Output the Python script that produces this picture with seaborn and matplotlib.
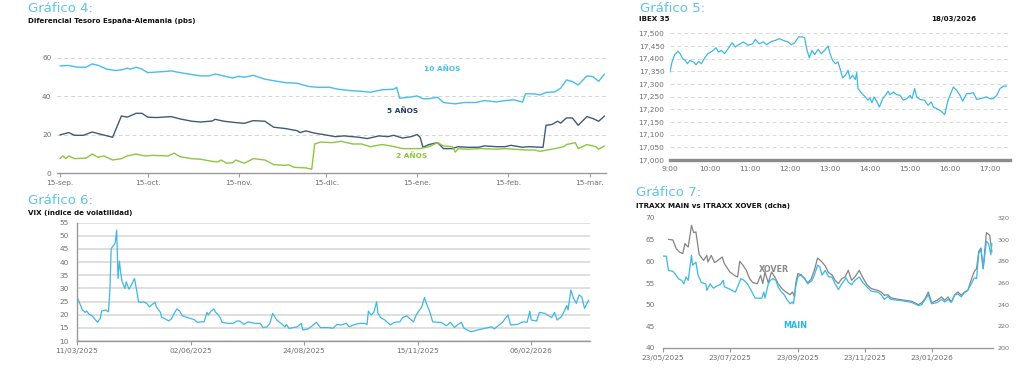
import pandas as pd
import matplotlib
matplotlib.use("Agg")
import matplotlib.pyplot as plt
import seaborn as sns

# ====================== DATA ======================
# Gráfico 4: Diferencial Tesoro España-Alemania (pbs); days since 15-sep-2025
g4_start = "2025-09-15"
g4_days_10 = [0,3,6,9,11,13,16,19,21,23,24,26,28,30,32,36,38,41,45,48,51,53,55,59,61,63,66,70,73,77,
              81,85,88,92,95,99,103,106,110,114,115,116,119,122,124,126,129,131,135,138,142,145,149,152,155,158,159,162,164,166,
              169,171,173,175,177,180,182,184,186]
g4_vals_10 = [55.7,55.9,55.0,55.0,56.7,56.0,54.0,53.3,53.6,54.5,54.0,55.0,54.0,52.2,52.4,52.8,53.1,52.2,51.2,50.5,
              50.5,51.5,50.8,49.4,50.3,49.8,50.8,48.8,48.0,47.0,46.7,45.0,44.6,44.6,43.6,42.9,42.5,42.0,43.3,43.6,
              44.6,38.9,39.4,40.1,38.6,38.7,39.4,36.7,36.0,36.7,36.7,37.7,37.0,37.7,38.1,36.9,41.2,41.2,40.6,41.9,
              42.2,44.1,48.4,47.6,45.8,50.5,50.1,47.7,51.5]
g4_days_5 = [0,3,5,8,11,14,18,21,23,26,28,30,33,38,41,45,48,52,53,56,60,63,66,70,73,77,81,82,84,87,
             90,94,97,102,105,109,112,114,117,120,122,123,124,126,129,131,134,136,139,143,145,149,152,154,158,160,164,165,166,168,
             170,171,173,175,177,180,182,184,186]
g4_vals_5 = [19.9,21.1,19.7,19.7,21.4,20.2,18.7,29.7,29.1,31.1,31.1,29.1,28.9,29.4,28.2,27.0,26.6,27.1,28.0,27.0,
             26.3,25.9,27.3,27.0,23.9,23.2,22.1,21.1,22.0,20.8,20.1,19.0,19.4,18.7,18.0,19.4,19.0,19.7,18.3,19.0,
             20.1,18.7,13.5,14.9,15.9,12.8,12.8,13.8,13.5,13.5,14.2,13.8,13.8,14.5,13.5,13.8,13.5,13.5,24.9,25.3,
             27.0,26.0,28.7,28.7,24.9,29.4,28.4,27.0,29.7]
g4_days_2 = [0,1,2,3,5,9,11,13,15,18,21,23,26,29,32,37,39,41,45,48,52,54,55,57,59,60,63,66,70,73,
             77,78,80,84,86,87,89,93,96,100,103,106,110,113,117,120,123,126,129,131,134,135,136,139,144,149,152,155,159,162,
             164,168,170,172,173,176,177,180,183,184,186]
g4_vals_2 = [7.6,9.0,7.6,9.0,7.6,7.9,10.0,8.3,9.0,6.9,7.6,9.0,10.0,9.0,9.3,9.0,10.4,8.6,7.6,7.3,
             6.2,5.9,6.9,5.2,5.5,6.9,5.2,7.6,6.9,4.5,4.1,4.5,3.1,2.8,2.1,15.2,16.2,15.9,16.6,15.2,
             15.2,13.8,14.9,14.2,12.8,12.8,12.8,13.8,15.9,14.2,13.8,11.0,12.8,12.5,12.8,12.5,12.8,12.5,12.1,12.1,
             11.4,12.5,13.1,13.8,14.9,15.9,12.8,14.9,13.8,12.5,14.2]
g4_tick_dates = ["2025-09-15", "2025-10-15", "2025-11-15", "2025-12-15", "2026-01-15", "2026-02-15", "2026-03-15"]
g4_tick_labels = ["15-sep.", "15-oct.", "15-nov.", "15-dic.", "15-ene.", "15-feb.", "15-mar."]
g4_yticks = [0, 20, 40, 60]

# Gráfico 5: IBEX 35 intradía 18/03/2026; minutes since 9:00
g5_minutes = [0,3,7,12,15,19,23,26,30,35,39,43,47,52,57,63,69,73,77,82,87,93,98,103,110,117,124,128,134,140,
              145,152,158,164,170,177,182,187,193,199,202,205,209,213,217,222,227,232,237,240,244,248,252,255,259,263,267,270,274,278,
              280,282,288,293,297,300,303,306,310,314,319,323,327,330,335,340,345,350,355,360,363,367,370,375,382,387,392,395,400,407,
              412,417,420,425,430,435,439,445,450,455,460,465,470,475,480,485,490,495,500,505]
g5_vals = [17347,17387,17416,17429,17420,17400,17393,17380,17393,17387,17376,17389,17380,17403,17420,17429,17443,17426,17433,17420,
           17439,17463,17446,17455,17466,17453,17459,17476,17459,17466,17455,17468,17472,17479,17472,17466,17455,17463,17486,17486,
           17482,17439,17403,17433,17416,17437,17420,17433,17450,17420,17393,17380,17387,17361,17324,17334,17354,17321,17334,17318,
           17345,17282,17262,17249,17236,17245,17226,17249,17232,17209,17242,17255,17271,17258,17268,17258,17255,17236,17242,17255,
           17242,17282,17249,17239,17236,17216,17229,17209,17203,17192,17179,17236,17255,17288,17275,17255,17232,17262,17262,17266,
           17239,17242,17245,17249,17242,17242,17255,17282,17291,17292]
g5_xticks = [9, 10, 11, 12, 13, 14, 15, 16, 17]
g5_xtick_labels = ["9:00", "10:00", "11:00", "12:00", "13:00", "14:00", "15:00", "16:00", "17:00"]
g5_yticks = [17000, 17050, 17100, 17150, 17200, 17250, 17300, 17350, 17400, 17450, 17500]

# Gráfico 6: VIX; days since 11/03/2025
g6_start = "2025-03-11"
g6_days = [0,2,4,6,7,9,11,15,17,18,21,23,24,25,27,28,29,30,31,32,33,35,36,38,40,42,44,45,47,49,
           51,53,55,57,58,61,62,64,67,69,71,73,75,77,79,81,84,86,88,91,93,95,96,98,100,101,103,105,106,111,
           114,117,119,122,125,130,134,136,139,141,143,146,149,152,153,155,158,161,164,165,169,172,175,178,184,187,190,193,197,199,
           203,207,210,212,213,215,217,219,220,222,225,229,232,236,238,241,243,246,248,252,254,256,258,260,264,266,270,273,276,278,
           281,283,288,293,298,303,305,309,311,315,317,322,326,329,331,332,336,338,342,344,347,349,351,354,356,358,359,361,363,365,
           367,369,371,374]
g6_vals = [26.8,24.3,21.8,20.9,21.4,20.1,19.6,17.1,18.6,21.4,21.8,21.1,28.7,45.2,46.5,47.5,52.2,33.8,40.4,35.7,
           32.5,30.0,32.5,29.7,31.5,33.8,28.1,24.9,24.7,24.9,24.3,23.0,23.9,24.7,23.0,20.9,18.9,18.6,17.6,18.4,
           20.5,22.2,21.4,19.6,19.2,18.9,18.4,18.0,17.1,17.3,17.3,20.9,19.9,21.4,22.2,21.1,20.1,18.6,17.1,16.7,
           16.7,17.6,17.6,16.3,17.3,16.7,16.7,15.1,15.4,16.7,20.5,18.0,16.7,15.4,16.3,14.8,15.1,15.4,16.7,14.2,
           14.6,15.8,17.1,15.1,15.1,14.8,16.3,16.1,16.7,15.4,16.3,16.7,16.7,16.3,21.4,19.9,20.9,24.9,20.5,18.9,
           18.0,16.1,17.1,17.3,18.9,19.6,18.6,17.3,19.9,23.0,26.5,23.5,20.9,17.3,17.1,17.1,15.8,17.1,15.1,16.1,
           17.1,14.8,13.5,14.2,14.8,15.4,14.6,16.3,17.1,19.9,16.1,16.3,17.3,17.1,21.4,18.0,17.6,20.9,20.5,19.9,
           18.9,20.9,18.0,19.2,21.1,23.5,21.8,29.4,26.2,24.3,27.5,26.8,22.4,25.6]
g6_tick_dates = ["2025-03-11", "2025-06-02", "2025-08-24", "2025-11-15", "2026-02-06"]
g6_tick_labels = ["11/03/2025", "02/06/2025", "24/08/2025", "15/11/2025", "06/02/2026"]
g6_yticks = [10, 15, 20, 25, 30, 35, 40, 45, 50, 55]

# Gráfico 7: iTraxx Main (izq) vs iTraxx Crossover (dcha); days since 23/05/2025
g7_start = "2025-05-23"
g7_days_main = [0,3,5,9,12,14,17,19,21,23,26,27,30,32,35,39,40,43,46,49,52,55,56,60,63,66,68,71,74,77,
                80,84,87,90,92,93,96,98,100,103,105,108,110,113,116,118,119,121,123,125,129,132,136,138,141,143,145,148,151,154,
                157,160,163,167,169,172,175,179,182,186,190,196,199,202,205,208,215,221,227,233,236,239,242,245,250,254,257,260,263,266,
                269,272,275,278,282,284,286,288,290,292,295,297,299,300]
g7_vals_main = [61.2,61.2,57.9,57.7,56.8,56.0,55.6,54.8,56.4,55.6,61.4,59.1,59.8,56.8,55.1,54.8,53.3,54.8,53.8,54.3,
                54.6,55.6,54.1,53.7,53.3,52.9,54.1,56.0,55.6,54.8,53.5,51.5,51.5,51.5,52.9,51.5,54.8,55.6,56.0,55.6,
                54.1,52.9,52.5,51.2,50.2,50.6,50.2,54.1,56.4,56.8,56.2,54.8,55.6,56.8,59.1,58.7,56.8,57.9,56.4,56.4,
                54.8,53.5,54.8,56.2,55.2,54.6,55.6,56.4,55.2,54.1,53.1,52.9,52.3,51.2,51.9,51.2,51.0,50.8,50.5,49.8,
                50.0,51.2,52.3,50.2,50.5,51.2,50.6,51.2,50.5,52.2,52.5,51.8,52.8,53.3,55.2,56.2,56.0,61.8,62.8,58.3,
                64.6,64.1,61.5,64.1]
g7_days_xover = [5,9,12,15,18,20,23,26,28,30,33,37,40,41,44,47,50,54,56,61,65,68,70,73,76,79,82,86,89,91,
                 93,96,99,102,105,109,113,116,118,120,121,123,126,129,132,135,138,141,145,148,151,154,157,160,163,166,169,172,175,179,
                 182,186,190,196,199,202,205,208,215,221,227,233,236,239,242,245,250,254,257,260,263,266,269,272,275,278,282,284,286,288,
                 290,292,295,298,300]
g7_vals_xover = [300.3,299.7,291.7,288.6,287.1,296.3,293.2,313.2,306.5,307.1,286.2,280.9,285.5,279.4,285.5,278.8,280.9,284.0,277.8,270.2,
                 267.1,265.5,280.0,276.3,271.7,264.0,260.3,259.4,267.1,259.4,270.2,260.3,270.2,265.5,259.4,254.2,251.1,249.2,251.7,247.1,
                 259.4,268.6,267.7,264.0,260.3,263.4,271.7,283.1,279.4,275.7,269.5,267.7,262.5,259.4,264.0,265.5,271.7,262.5,265.5,271.7,
                 265.5,258.5,254.8,253.2,251.7,248.6,249.2,246.2,244.9,244.0,243.1,240.0,241.8,245.5,251.7,241.8,244.0,247.1,244.0,247.1,
                 242.5,249.2,251.7,248.6,251.7,253.2,265.5,270.8,273.2,289.2,292.3,273.2,306.5,304.0,288.6]
g7_tick_dates = ["2025-05-23", "2025-07-23", "2025-09-23", "2025-11-23", "2026-01-23"]
g7_tick_labels = ["23/05/2025", "23/07/2025", "23/09/2025", "23/11/2025", "23/01/2026"]
g7_yticks_left = [40, 45, 50, 55, 60, 65, 70]
g7_yticks_right = [200, 220, 240, 260, 280, 300, 320]

# ====================== STYLE ======================
sns.set_theme(style="white")
plt.rcParams["font.family"] = ["DejaVu Sans"]

W, H = 1024, 372
CYAN = "#3db8e6"
TITLE_CYAN = "#5cc3ea"
GREY_TXT = "#6f6f6f"
AXIS_GREY = "#9a9a9a"
TICK_FS = 5.3
SUB_FS = 5.1

fig = plt.figure(figsize=(W / 100, H / 100), dpi=100)
fig.patch.set_facecolor("white")


def px_axes(left, top, right, bottom):
    return fig.add_axes([left / W, 1 - bottom / H, (right - left) / W, (bottom - top) / H])


def ftext(x, y, s, **kw):
    fig.text(x / W, 1 - y / H, s, va="center", **kw)


def to_dates(start, days):
    return pd.Timestamp(start) + pd.to_timedelta(days, unit="D")


def line(ax, x, y, color, lw=1.0):
    df = pd.DataFrame({"x": x, "y": y})
    sns.lineplot(data=df, x="x", y="y", ax=ax, color=color, linewidth=lw,
                 errorbar=None, legend=False)
    ax.set_xlabel("")
    ax.set_ylabel("")


def clean(ax):
    for s in ax.spines.values():
        s.set_visible(False)
    ax.set_facecolor("none")
    ax.tick_params(colors=GREY_TXT, labelsize=TICK_FS)


# ---------------- Gráfico 4 ----------------
ax4 = px_axes(57, 46, 606, 173.3)
line(ax4, to_dates(g4_start, g4_days_10), g4_vals_10, "#45bfe9", 1.0)
line(ax4, to_dates(g4_start, g4_days_5), g4_vals_5, "#3e5c75", 1.0)
line(ax4, to_dates(g4_start, g4_days_2), g4_vals_2, "#8dc63f", 1.0)
clean(ax4)
ax4.set_ylim(0, 66)
ax4.set_xlim(pd.Timestamp(g4_start) - pd.Timedelta(days=1), pd.Timestamp(g4_start) + pd.Timedelta(days=186.5))
ax4.set_yticks(g4_yticks)
ax4.set_xticks(pd.to_datetime(g4_tick_dates))
ax4.set_xticklabels(g4_tick_labels)
ax4.yaxis.grid(True, linestyle=(0, (4, 3)), color="#d4d4d4", linewidth=0.7)
ax4.xaxis.grid(False)
ax4.spines["bottom"].set_visible(True)
ax4.spines["bottom"].set_color(AXIS_GREY)
ax4.spines["bottom"].set_linewidth(1.0)
ax4.tick_params(axis="y", length=0, pad=4)
ax4.tick_params(axis="x", length=3, width=0.8, color=AXIS_GREY, direction="out", pad=2, bottom=True)
ax4.text(pd.Timestamp(g4_start) + pd.Timedelta(days=130.5), 54.1, "10 AÑOS", color="#45bfe9",
         fontsize=5.3, fontweight="bold", ha="center", va="center")
ax4.text(pd.Timestamp(g4_start) + pd.Timedelta(days=117), 32.8, "5 AÑOS", color="#1f3868",
         fontsize=5.3, fontweight="bold", ha="center", va="center")
ax4.text(pd.Timestamp(g4_start) + pd.Timedelta(days=120), 9.4, "2 AÑOS", color="#8dc63f",
         fontsize=5.3, fontweight="bold", ha="center", va="center")
ftext(28, 9, "Gráfico 4:", color=TITLE_CYAN, fontsize=9.5)
ftext(28, 20.5, "Diferencial Tesoro España-Alemania (pbs)", color="#111111", fontsize=SUB_FS, fontweight="bold")

# ---------------- Gráfico 5 ----------------
ax5 = px_axes(670, 30.8, 1010, 160)
g5_hours = [9 + m / 60 for m in g5_minutes]
line(ax5, g5_hours, g5_vals, CYAN, 0.9)
clean(ax5)
ax5.set_xlim(9, 17.5)
ax5.set_ylim(17000, 17510)
ax5.set_yticks(g5_yticks)
ax5.set_yticklabels([f"{v:,}" for v in g5_yticks])
ax5.set_xticks(g5_xticks)
ax5.set_xticklabels(g5_xtick_labels)
ax5.yaxis.grid(True, linestyle=(0, (4, 3)), color="#d9d9d9", linewidth=0.7)
ax5.xaxis.grid(False)
ax5.spines["bottom"].set_visible(True)
ax5.spines["bottom"].set_color("#8c8c8c")
ax5.spines["bottom"].set_linewidth(2.4)
ax5.tick_params(axis="y", length=0, pad=4)
ax5.tick_params(axis="x", length=0, pad=4)
ftext(640, 8, "Gráfico 5:", color=TITLE_CYAN, fontsize=9.5)
ftext(639, 19, "IBEX 35", color="#111111", fontsize=SUB_FS, fontweight="bold")
ftext(976, 19, "18/03/2026", color="#111111", fontsize=SUB_FS, fontweight="bold", ha="right")

# ---------------- Gráfico 6 ----------------
ax6 = px_axes(77, 222.7, 590, 341)
line(ax6, to_dates(g6_start, g6_days), g6_vals, CYAN, 0.9)
clean(ax6)
ax6.set_ylim(10, 55)
ax6.set_xlim(pd.Timestamp(g6_start), pd.Timestamp(g6_start) + pd.Timedelta(days=375))
ax6.set_yticks(g6_yticks)
ax6.set_xticks(pd.to_datetime(g6_tick_dates))
ax6.set_xticklabels(g6_tick_labels)
ax6.yaxis.grid(True, linestyle="-", color="#d6d6d6", linewidth=1.1)
ax6.xaxis.grid(False)
for s in ("left", "bottom"):
    ax6.spines[s].set_visible(True)
    ax6.spines[s].set_color(AXIS_GREY)
    ax6.spines[s].set_linewidth(1.0)
ax6.tick_params(axis="y", length=0, pad=6)
ax6.tick_params(axis="x", length=3, width=0.8, color=AXIS_GREY, direction="out", pad=2, bottom=True)
ftext(28, 201, "Gráfico 6:", color=TITLE_CYAN, fontsize=9.5)
ftext(28, 213, "VIX (índice de volatilidad)", color="#111111", fontsize=SUB_FS, fontweight="bold")

# ---------------- Gráfico 7 ----------------
ax7 = px_axes(663, 218, 993, 348)
ax7b = ax7.twinx()
line(ax7b, to_dates(g7_start, g7_days_xover), g7_vals_xover, "#848484", 0.9)
line(ax7, to_dates(g7_start, g7_days_main), g7_vals_main, CYAN, 0.9)
ax7.set_zorder(ax7b.get_zorder() + 1)
clean(ax7)
clean(ax7b)
ax7.set_ylim(40, 70)
ax7b.set_ylim(200, 320)
xl = (pd.Timestamp(g7_start), pd.Timestamp(g7_start) + pd.Timedelta(days=301))
ax7.set_xlim(*xl)
ax7b.set_xlim(*xl)
ax7.set_yticks(g7_yticks_left)
ax7b.set_yticks(g7_yticks_right)
ax7.set_xticks(pd.to_datetime(g7_tick_dates))
ax7.set_xticklabels(g7_tick_labels)
ax7.grid(False)
ax7b.grid(False)
ax7.spines["bottom"].set_visible(True)
ax7.spines["bottom"].set_color(AXIS_GREY)
ax7.spines["bottom"].set_linewidth(1.0)
ax7.tick_params(axis="y", length=0, pad=6)
ax7b.tick_params(axis="y", length=0, pad=3, labelsize=4.6)
ax7.tick_params(axis="x", length=3, width=0.8, color=AXIS_GREY, direction="out", pad=2, bottom=True)
ax7.text(pd.Timestamp(g7_start) + pd.Timedelta(days=101), 58.0, "XOVER", color="#8a8a8a",
         fontsize=5.8, fontweight="bold", ha="center", va="center")
ax7.text(pd.Timestamp(g7_start) + pd.Timedelta(days=121), 45.3, "MAIN", color="#27b5ea",
         fontsize=5.8, fontweight="bold", ha="center", va="center")
ftext(636, 193, "Gráfico 7:", color=TITLE_CYAN, fontsize=9.5)
ftext(636, 206, "ITRAXX MAIN vs ITRAXX XOVER (dcha)", color="#111111", fontsize=SUB_FS, fontweight="bold")

fig.savefig("out.png", dpi=100, facecolor="white")
